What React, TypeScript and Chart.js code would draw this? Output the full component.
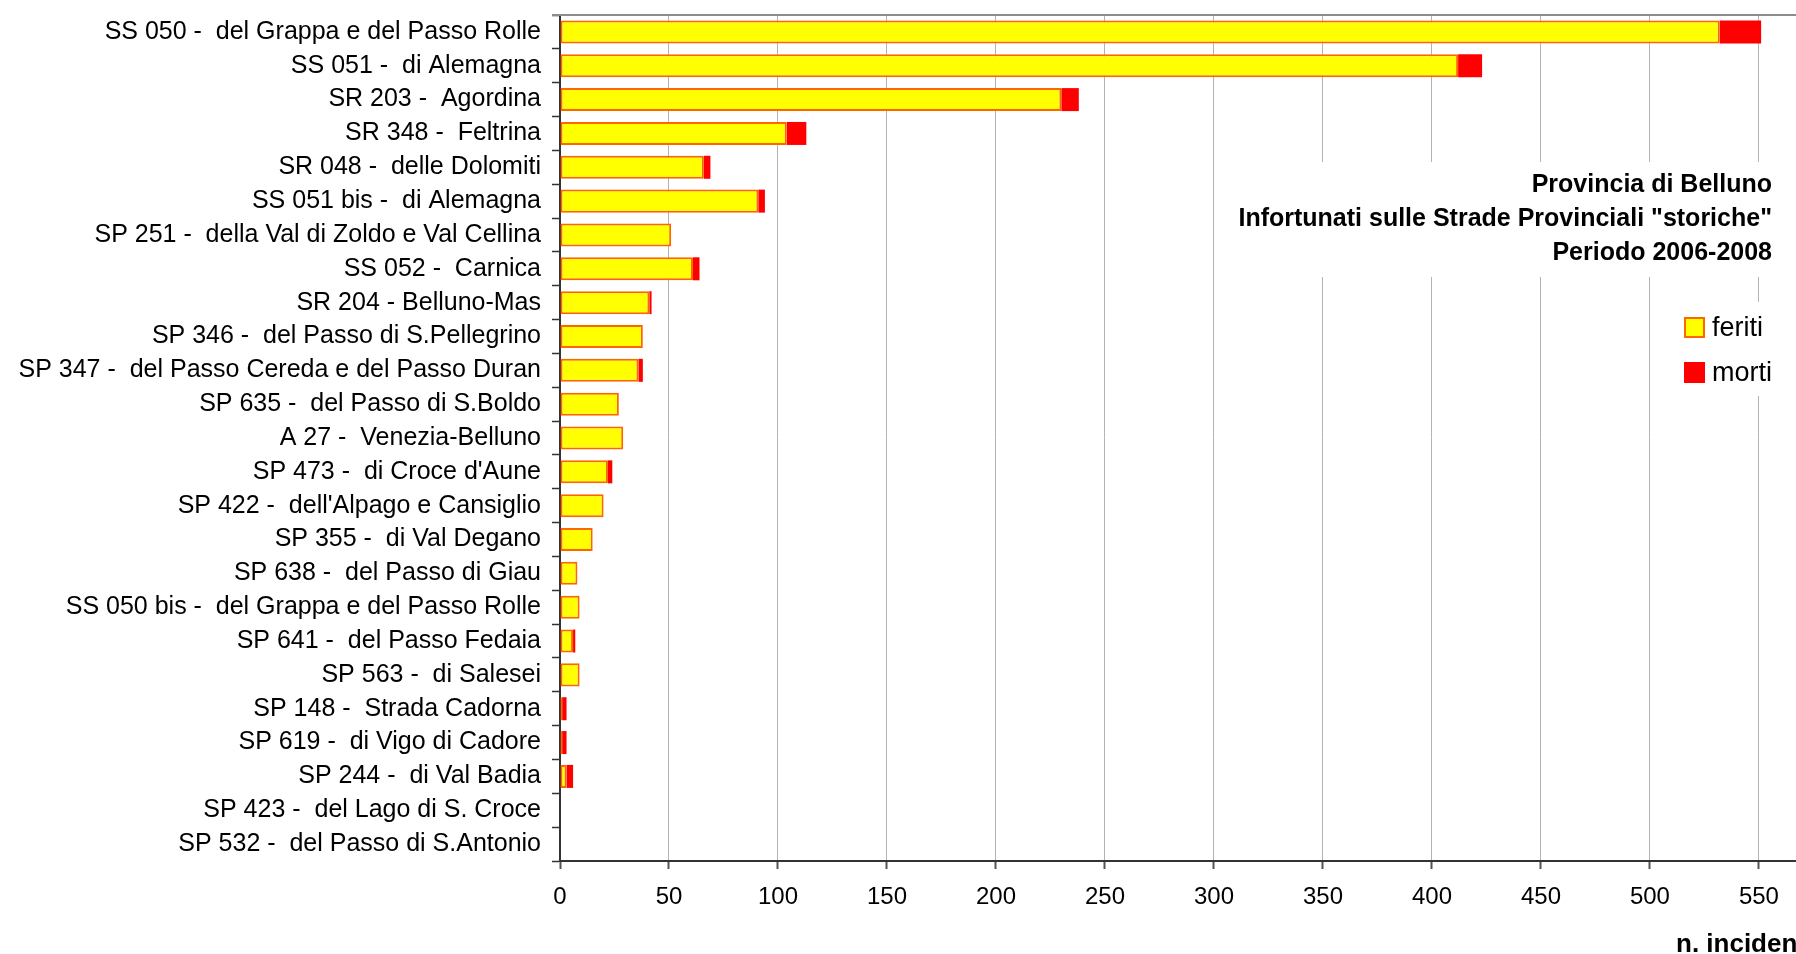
import React, { useEffect, useRef } from "react";
import { Chart, registerables } from "chart.js";

Chart.register(...registerables);

const categories = [
  "SS 050 -  del Grappa e del Passo Rolle",
  "SS 051 -  di Alemagna",
  "SR 203 -  Agordina",
  "SR 348 -  Feltrina",
  "SR 048 -  delle Dolomiti",
  "SS 051 bis -  di Alemagna",
  "SP 251 -  della Val di Zoldo e Val Cellina",
  "SS 052 -  Carnica",
  "SR 204 - Belluno-Mas",
  "SP 346 -  del Passo di S.Pellegrino",
  "SP 347 -  del Passo Cereda e del Passo Duran",
  "SP 635 -  del Passo di S.Boldo",
  "A 27 -  Venezia-Belluno",
  "SP 473 -  di Croce d'Aune",
  "SP 422 -  dell'Alpago e Cansiglio",
  "SP 355 -  di Val Degano",
  "SP 638 -  del Passo di Giau",
  "SS 050 bis -  del Grappa e del Passo Rolle",
  "SP 641 -  del Passo Fedaia",
  "SP 563 -  di Salesei",
  "SP 148 -  Strada Cadorna",
  "SP 619 -  di Vigo di Cadore",
  "SP 244 -  di Val Badia",
  "SP 423 -  del Lago di S. Croce",
  "SP 532 -  del Passo di S.Antonio",
];

const feriti = [532, 412, 230, 104, 66, 91, 51, 61, 41, 38, 36, 27, 29, 22, 20, 15, 8, 9, 6, 9, 1, 1, 3, 0, 0];
const morti = [19, 11, 8, 9, 3, 3, 0, 3, 1, 0, 2, 0, 0, 2, 0, 0, 0, 0, 1, 0, 2, 2, 3, 0, 0];

const xTickValues = [0, 50, 100, 150, 200, 250, 300, 350, 400, 450, 500, 550];

const seriesLabels = ["feriti", "morti"];
const titleLines = [
  "Provincia di Belluno",
  'Infortunati sulle Strade Provinciali "storiche"',
  "Periodo 2006-2008",
];
const xAxisTitle = "n. incidenti";

const FONT = "'Liberation Sans', Arial, sans-serif";

const overlayPlugin = {
  id: "overlay",
  afterDraw(chart: any) {
    const ctx = chart.ctx;
    const { left, right, top } = chart.chartArea;
    ctx.save();
    // top border of the plot area
    ctx.strokeStyle = "#8c8c8c";
    ctx.lineWidth = 2;
    ctx.beginPath();
    ctx.moveTo(left - 8, top);
    ctx.lineTo(right, top);
    ctx.stroke();

    // title box
    ctx.fillStyle = "#ffffff";
    ctx.fillRect(1218, 162, right - 1218, 115);
    ctx.fillStyle = "#000000";
    ctx.font = `bold 25px ${FONT}`;
    ctx.textAlign = "right";
    ctx.textBaseline = "alphabetic";
    const baselines = [192, 226, 260];
    titleLines.forEach((t, i) => ctx.fillText(t, 1772, baselines[i]));

    // legend box
    ctx.fillStyle = "#ffffff";
    ctx.fillRect(1668, 302, right - 1668, 94);
    const ds = chart.data.datasets;
    const rows = [
      { y: 317, base: 336 },
      { y: 362, base: 381 },
    ];
    ds.forEach((d: any, i: number) => {
      const r = rows[i];
      if (d.borderWidth > 0) {
        ctx.fillStyle = d.backgroundColor;
        ctx.fillRect(1684, r.y, 21, 21);
        ctx.strokeStyle = d.borderColor;
        ctx.lineWidth = 2;
        ctx.strokeRect(1685, r.y + 1, 19, 19);
      } else {
        ctx.fillStyle = d.backgroundColor;
        ctx.fillRect(1684, r.y, 21, 21);
      }
      ctx.fillStyle = "#000000";
      ctx.font = `27px ${FONT}`;
      ctx.textAlign = "left";
      ctx.fillText(d.label, 1712, r.base);
    });

    // x axis title
    ctx.font = `bold 26px ${FONT}`;
    ctx.textAlign = "left";
    ctx.fillStyle = "#000000";
    ctx.fillText(xAxisTitle, 1676, 952);
    ctx.restore();
  },
};

export default function App() {
  const ref = useRef<HTMLCanvasElement | null>(null);

  useEffect(() => {
    if (!ref.current) return;
    const chart = new Chart(ref.current, {
      type: "bar",
      data: {
        labels: categories,
        datasets: [
          {
            label: seriesLabels[0],
            data: feriti,
            backgroundColor: "#FFFF00",
            borderColor: "#FF6600",
            borderWidth: 2,
            borderSkipped: false,
            barPercentage: 0.68,
            categoryPercentage: 1,
          },
          {
            label: seriesLabels[1],
            data: morti,
            backgroundColor: "#FF0000",
            borderColor: "#FF0000",
            borderWidth: 0,
            barPercentage: 0.68,
            categoryPercentage: 1,
          },
        ],
      },
      options: {
        indexAxis: "y",
        animation: false,
        responsive: false,
        devicePixelRatio: 1,
        layout: { padding: { top: 15, left: 0, right: 0, bottom: 0 } },
        plugins: {
          legend: { display: false },
          title: { display: false },
          tooltip: { enabled: false },
        },
        scales: {
          x: {
            type: "linear",
            stacked: true,
            min: 0,
            max: 567,
            ticks: {
              stepSize: 50,
              color: "#000",
              padding: 14,
              font: { family: FONT, size: 24 },
              maxRotation: 0,
              autoSkip: false,
            },
            afterBuildTicks: (scale: any) => {
              scale.ticks = xTickValues.map((v) => ({ value: v }));
            },
            afterFit: (scale: any) => {
              scale.height = 93;
              scale.paddingLeft = 0;
              scale.paddingRight = 0;
            },
            grid: {
              color: "#b3b3b3",
              lineWidth: 1,
              tickLength: 8,
              tickColor: "#555",
              tickWidth: 2,
            },
            border: { display: true, color: "#333", width: 2 },
          },
          y: {
            stacked: true,
            ticks: {
              color: "#000",
              padding: 11,
              font: { family: FONT, size: 25 },
              autoSkip: false,
            },
            afterFit: (scale: any) => {
              scale.width = 560;
              scale.paddingTop = 0;
              scale.paddingBottom = 0;
            },
            grid: {
              drawOnChartArea: false,
              drawTicks: true,
              tickLength: 8,
              tickColor: "#333",
              tickWidth: 1.5,
              offset: true,
            },
            border: { display: true, color: "#333", width: 2 },
          },
        },
      },
      plugins: [overlayPlugin],
    } as any);
    return () => chart.destroy();
  }, []);

  return (
    <div
      style={{
        position: "fixed",
        left: 0,
        top: 0,
        width: 1796,
        height: 954,
        overflow: "hidden",
        background: "#ffffff",
      }}
    >
      <canvas ref={ref} width={1796} height={954} />
    </div>
  );
}
